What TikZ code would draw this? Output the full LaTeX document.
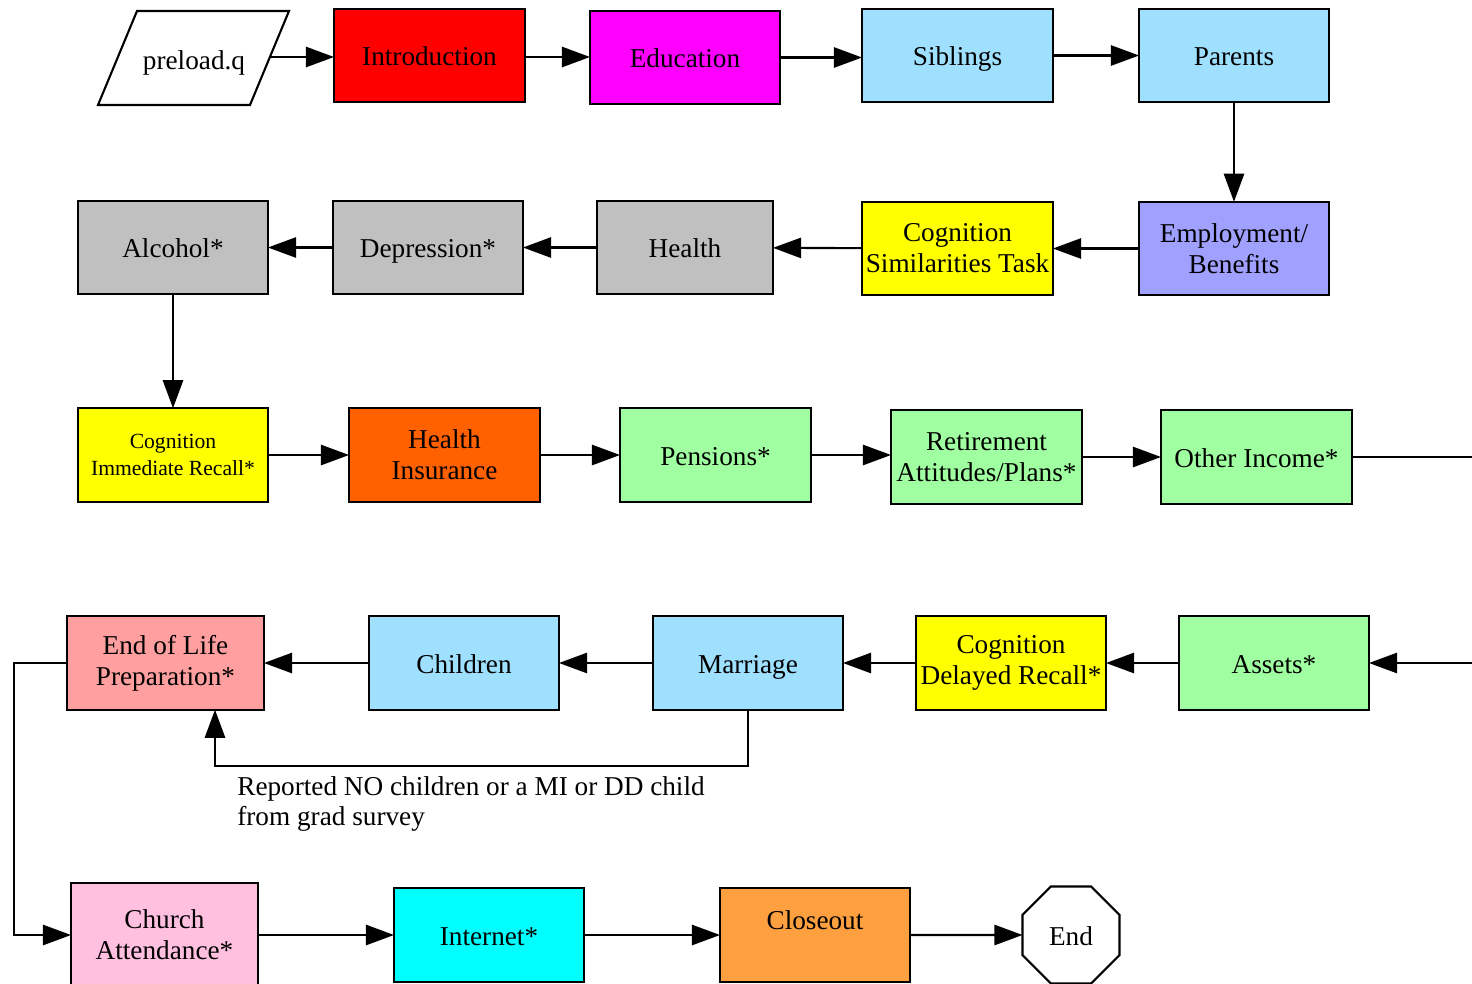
\documentclass[tikz,border=0pt]{standalone}
\usepackage{fontspec}
\setmainfont{Liberation Serif}
\usetikzlibrary{arrows.meta,shapes.geometric}
\definecolor{cRed}{HTML}{FF0000}
\definecolor{cMag}{HTML}{FF00FF}
\definecolor{cBlue}{HTML}{A0E0FF}
\definecolor{cGray}{HTML}{C0C0C0}
\definecolor{cYel}{HTML}{FFFF00}
\definecolor{cLav}{HTML}{A0A0FF}
\definecolor{cOrR}{HTML}{FF6000}
\definecolor{cGrn}{HTML}{A0FFA0}
\definecolor{cSal}{HTML}{FF9F9F}
\definecolor{cPink}{HTML}{FFC0E0}
\definecolor{cCyan}{HTML}{00FFFF}
\definecolor{cOrg}{HTML}{FFA040}
\begin{document}
\begin{tikzpicture}[x=0.02cm,y=-0.02cm,
  box/.style={draw, line width=1.2pt, inner sep=0pt, outer sep=0pt, align=center,
    minimum width=3.8cm, minimum height=1.87cm, font=\fontsize{15.5}{17.6}\selectfont},
  one/.style={text height=13.6pt, text depth=2pt},
  arr/.style={line width=1.2pt, -{Triangle[length=16pt,width=11.5pt]}},
  ln/.style={line width=1.2pt}]
\clip (0,0) rectangle (1472,984);
\useasboundingbox (0,0) rectangle (1472,984);
\fill[white] (0,0) rectangle (1472,984);
% row 1
\draw[line width=1.2pt, fill=white] (137,11) -- (289,11) -- (250,105) -- (98,105) -- cycle;
\node[font=\fontsize{15.5}{17.6}\selectfont, inner sep=0pt, one] (pre) at (194,59) {preload.q};
\coordinate (preR) at (270,57);
\node[box, one, fill=cRed, minimum width=3.82cm] (intro) at (429.5,55.5) {Introduction};
\node[box, one, fill=cMag] (edu) at (685,57.5) {Education};
\node[box, one, fill=cBlue, minimum width=3.82cm] (sib) at (957.5,55.5) {Siblings};
\node[box, one, fill=cBlue] (par) at (1234,55.5) {Parents};
% row 2
\node[box, one, fill=cGray] (alc) at (173,247.5) {Alcohol*};
\node[box, one, fill=cGray] (dep) at (428,247.5) {Depression*};
\node[box, one, fill=cGray, minimum width=3.52cm] (hea) at (685,247.5) {Health};
\node[box, fill=cYel, minimum width=3.82cm] (cst) at (957.5,248.5) {Cognition\\Similarities Task};
\node[box, fill=cLav] (emp) at (1234,248.5) {Employment/\\Benefits};
% row 3
\node[box, fill=cYel, font=\fontsize{12.3}{15.3}\selectfont] (cir) at (173,455) {Cognition\\Immediate Recall*};
\node[box, fill=cOrR, minimum width=3.82cm] (hin) at (444.5,455) {Health\\Insurance};
\node[box, one, fill=cGrn, minimum width=3.82cm] (pen) at (715.5,455) {Pensions*};
\node[box, fill=cGrn, minimum width=3.82cm] (ret) at (986.5,457) {Retirement\\Attitudes/Plans*};
\node[box, one, fill=cGrn, minimum width=3.82cm] (oth) at (1256.5,457) {Other Income*};
\coordinate (offR1) at (1472,457);
% row 4
\coordinate (offR2) at (1472,663);
\node[box, fill=cSal, minimum width=3.94cm] (eol) at (165.5,663) {End of Life\\Preparation*};
\node[box, one, fill=cBlue] (chi) at (464,663) {Children};
\node[box, one, fill=cBlue] (mar) at (748,663) {Marriage};
\node[box, fill=cYel] (cdr) at (1011,663) {Cognition\\Delayed Recall*};
\node[box, one, fill=cGrn] (ass) at (1274,663) {Assets*};
\node[font=\fontsize{15.5}{17.6}\selectfont, align=left, anchor=west, inner sep=0pt] (note) at (237,804) {Reported NO children or a MI or DD child\\from grad survey};
% row 5
\node[box, fill=cPink, minimum width=3.74cm, minimum height=2.08cm] (chu) at (164.5,935) {Church\\Attendance*};
\node[box, one, fill=cCyan] (int) at (489,935) {Internet*};
\node[box, fill=cOrg, text depth=0.6cm] (clo) at (815,935) {Closeout};
\node[draw, line width=1.2pt, fill=white, regular polygon, regular polygon sides=8, minimum size=2.1cm, inner sep=0pt, outer sep=0pt, one, font=\fontsize{15.5}{17.6}\selectfont] (end) at (1071,935) {End};
% connectors
\draw[arr] (preR) -- (preR -| intro.west);
\draw[arr] (intro.east |- 0,57) -- (edu.west |- 0,57);
\draw[arr] (edu.east) -- (edu.east -| sib.west);
\draw[arr] (sib) -- (par);
\draw[arr] (par) -- (emp);
\draw[arr] (emp) -- (cst);
\draw[arr] (cst) -- (hea);
\draw[arr] (hea) -- (dep);
\draw[arr] (dep) -- (alc);
\draw[arr] (alc) -- (cir);
\draw[arr] (cir) -- (hin);
\draw[arr] (hin) -- (pen);
\draw[arr] (pen.east) -- (pen.east -| ret.west);
\draw[arr] (ret) -- (oth);
\draw[ln] (oth) -- (offR1);
\draw[arr] (offR2) -- (ass);
\draw[arr] (ass) -- (cdr);
\draw[arr] (cdr) -- (mar);
\draw[arr] (mar) -- (chi);
\draw[arr] (chi) -- (eol);
\draw[arr] (mar.south) -- ++(0,56) -| ([xshift=0.99cm]eol.south);
\draw[arr] (eol.west) -- (14,663) |- (chu.west);
\draw[arr] (chu) -- (int);
\draw[arr] (int) -- (clo);
\draw[arr] (clo) -- (end);
\end{tikzpicture}
\end{document}
